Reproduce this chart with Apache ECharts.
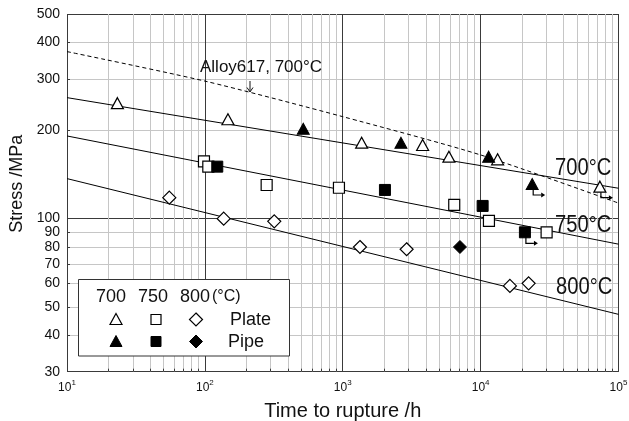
<!DOCTYPE html>
<html>
<head>
<meta charset="utf-8">
<script src="https://cdn.jsdelivr.net/npm/echarts@6/dist/echarts.min.js"></script>
<style>
  html, body { margin: 0; padding: 0; background: #fff; }
  #chart { width: 629px; height: 421px; }
</style>
</head>
<body>
<div id="chart"></div>
<script>
const FONT = '"Liberation Sans", Arial, Helvetica, sans-serif';

// Axis ticks: time to rupture (h) and stress (MPa)
const timeTicks = [10, 20, 30, 40, 50, 60, 70, 80, 90,
  100, 200, 300, 400, 500, 600, 700, 800, 900,
  1000, 2000, 3000, 4000, 5000, 6000, 7000, 8000, 9000,
  10000, 20000, 30000, 40000, 50000, 60000, 70000, 80000, 90000, 100000];
const timeLabels = [10, 100, 1000, 10000, 100000];
const stressTicks = [30, 40, 50, 60, 70, 80, 90, 100, 200, 300, 400, 500];

// Creep rupture data [time h, stress MPa]
const plate700 = [[23.2, 248], [147, 218.5], [1371, 181.7], [3796, 178.4], [5888, 162.8], [13280, 159.4], [73300, 128.6]];
const pipe700 = [[517, 202.7], [2642, 181.7], [11430, 162.8], [23660, 131.3]];
const plate750 = [[98.5, 157], [105.9, 150.5], [280.6, 130.3], [938.5, 127.5], [6436, 111.4], [11490, 98.2], [30100, 89.8]];
const pipe750 = [[123, 150.5], [2023, 125.3], [10340, 110.5], [20950, 89.8]];
const plate800 = [[55.2, 117.9], [136.9, 100], [318.6, 97.9], [1333, 80], [2906, 78.6], [16310, 58.9], [22290, 60.1]];
const pipe800 = [[7079, 80]];

// Tests still running (unbroken specimens)
const runouts = [[23660, 131.3], [73300, 128.6], [20950, 89.8]];

// Master curves per temperature and the Alloy617 reference curve
const fit700 = [[10, 259], [100000, 127]];
const fit750 = [[10, 191.6], [100000, 81.8]];
const fit800 = [[10, 137], [100000, 47.1]];
const alloy617 = [[10, 372], [100, 295], [1000, 223], [10000, 165], [100000, 113]];

const DARK = '#3a3a3a';
const LIGHT = '#c6c6c6';
const timeGridColors = timeTicks.map(v => Math.abs(Math.log10(v) % 1) < 1e-9 ? DARK : LIGHT);
const stressGridColors = stressTicks.map((v, i) => (v === 100 || i === 0 || i === stressTicks.length - 1) ? DARK : LIGHT);

const openStyle = { color: '#fff', borderColor: '#000', borderWidth: 1.2, opacity: 1 };
const fillStyle = { color: '#000', borderColor: '#000', borderWidth: 1, opacity: 1 };

function lineSeries(data, dashed) {
  return {
    type: 'line', data: data, showSymbol: false, silent: true, smooth: dashed ? 0.25 : false,
    lineStyle: { color: '#000', width: 1, type: dashed ? [4, 3] : 'solid' }, z: 3
  };
}
function markSeries(data, symbol, size, style) {
  return { type: 'scatter', data: data, symbol: symbol, symbolSize: size, itemStyle: style, z: 5 };
}

// legend key and text helpers (drawn above the plot)
const LZ = 100;
function ltext(x, y, text, size, align) {
  return { type: 'text', x: x, y: y, z: LZ + 1, style: { text: text, font: size + 'px ' + FONT, fill: '#111', align: align || 'left', verticalAlign: 'middle' } };
}
function lpoly(points, filled) {
  return { type: 'polygon', z: LZ + 1, shape: { points: points }, style: { fill: filled ? '#000' : '#fff', stroke: '#000', lineWidth: filled ? 1 : 1.2 } };
}
function lrect(x, y, filled) {
  return { type: 'rect', z: LZ + 1, shape: { x: x, y: y, width: 10, height: 10 }, style: { fill: filled ? '#000' : '#fff', stroke: '#000', lineWidth: filled ? 1 : 1.2 } };
}

const chart = echarts.init(document.getElementById('chart'), null, { renderer: 'canvas' });

chart.setOption({
  animation: false,
  backgroundColor: '#fff',
  grid: { left: 67, right: 10.5, top: 14, bottom: 49.3, show: false, containLabel: false, outerBoundsMode: 'none' },
  xAxis: {
    type: 'log', logBase: 10, min: 10, max: 100000,
    axisLine: { show: false },
    axisTick: { show: true, customValues: timeTicks, inside: true, length: 3, lineStyle: { color: DARK } },
    splitLine: { show: true, lineStyle: { color: timeGridColors, width: 1 } },
    axisLabel: {
      customValues: timeLabels, margin: 7,
      formatter: v => '{b|10}{s|' + Math.round(Math.log10(v)) + '}',
      rich: {
        b: { fontFamily: FONT, fontSize: 12, color: '#111', verticalAlign: 'bottom', lineHeight: 15 },
        s: { fontFamily: FONT, fontSize: 8, color: '#111', verticalAlign: 'top', lineHeight: 8 }
      }
    },
    name: 'Time to rupture /h', nameLocation: 'middle', nameGap: 30,
    nameTextStyle: { fontFamily: FONT, fontSize: 20, color: '#111' }
  },
  yAxis: {
    type: 'log', logBase: 10, min: 30, max: 500,
    axisLine: { show: false },
    axisTick: { show: true, customValues: stressTicks, inside: true, length: 3, lineStyle: { color: DARK } },
    splitLine: { show: true, lineStyle: { color: stressGridColors, width: 1 } },
    axisLabel: {
      customValues: stressTicks, margin: 7,
      formatter: v => String(Math.round(v)),
      fontFamily: FONT, fontSize: 14, color: '#111', padding: [6, 0, 0, 0]
    },
    name: 'Stress /MPa', nameLocation: 'middle', nameGap: 40,
    nameTextStyle: { fontFamily: FONT, fontSize: 18, color: '#111', padding: [0, 0, 0, 18] }
  },
  series: [
    lineSeries(alloy617, true),
    lineSeries(fit700, false),
    lineSeries(fit750, false),
    lineSeries(fit800, false),
    {
      type: 'custom', data: runouts, encode: { x: 0, y: 1 }, z: 4, silent: true,
      renderItem: (params, api) => {
        const p = api.coord([api.value(0), api.value(1)]);
        const x = p[0] + 1, y0 = p[1] + 4, y1 = p[1] + 11, x1 = p[0] + 9;
        return {
          type: 'group',
          children: [
            { type: 'polyline', shape: { points: [[x, y0], [x, y1], [x1, y1]] }, style: { stroke: '#000', lineWidth: 1.2, fill: null } },
            { type: 'polygon', shape: { points: [[x1, y1 - 2.5], [x1 + 4, y1], [x1, y1 + 2.5]] }, style: { fill: '#000' } }
          ]
        };
      }
    },
    markSeries(plate700, 'triangle', [12, 11], openStyle),
    markSeries(pipe700, 'triangle', [12, 11], fillStyle),
    markSeries(plate750, 'rect', [11, 11], openStyle),
    markSeries(pipe750, 'rect', [11, 11], fillStyle),
    markSeries(plate800, 'diamond', [13, 13], openStyle),
    markSeries(pipe800, 'diamond', [13, 13], fillStyle)
  ],
  graphic: [
    // curve labels
    { type: 'text', left: 555, top: 156, z: LZ, style: { text: '700°C', font: '24px ' + FONT, fill: '#111' }, scaleX: 0.84 },
    { type: 'text', left: 555, top: 213, z: LZ, style: { text: '750°C', font: '24px ' + FONT, fill: '#111' }, scaleX: 0.84 },
    { type: 'text', left: 556, top: 275, z: LZ, style: { text: '800°C', font: '24px ' + FONT, fill: '#111' }, scaleX: 0.84 },
    { type: 'text', left: 200, top: 59, z: LZ, style: { text: 'Alloy617, 700°C', font: '17px ' + FONT, fill: '#111' } },
    { type: 'polyline', z: LZ, shape: { points: [[250, 81], [250, 91.5]] }, style: { stroke: '#111', lineWidth: 1 } },
    { type: 'polyline', z: LZ, shape: { points: [[247, 87.5], [250, 92], [253, 87.5]] }, style: { stroke: '#111', lineWidth: 1, fill: null } },
    // legend box
    { type: 'rect', z: LZ, shape: { x: 78.5, y: 279.5, width: 211, height: 76.5 }, style: { fill: '#fff', stroke: '#333', lineWidth: 1 } },
    ltext(111, 297, '700', 18, 'center'),
    ltext(153, 297, '750', 18, 'center'),
    ltext(195, 297, '800', 18, 'center'),
    ltext(212, 297, '(°C)', 16),
    lpoly([[116, 313.5], [122, 324.5], [110, 324.5]], false),
    lrect(151, 314.5, false),
    lpoly([[196, 313], [202.5, 319.5], [196, 326], [189.5, 319.5]], false),
    ltext(230, 320, 'Plate', 18),
    lpoly([[116, 335.5], [122, 346.5], [110, 346.5]], true),
    lrect(151, 336.5, true),
    lpoly([[196, 335], [202.5, 341.5], [196, 348], [189.5, 341.5]], true),
    ltext(228, 342, 'Pipe', 18)
  ]
});
</script>
</body>
</html>
